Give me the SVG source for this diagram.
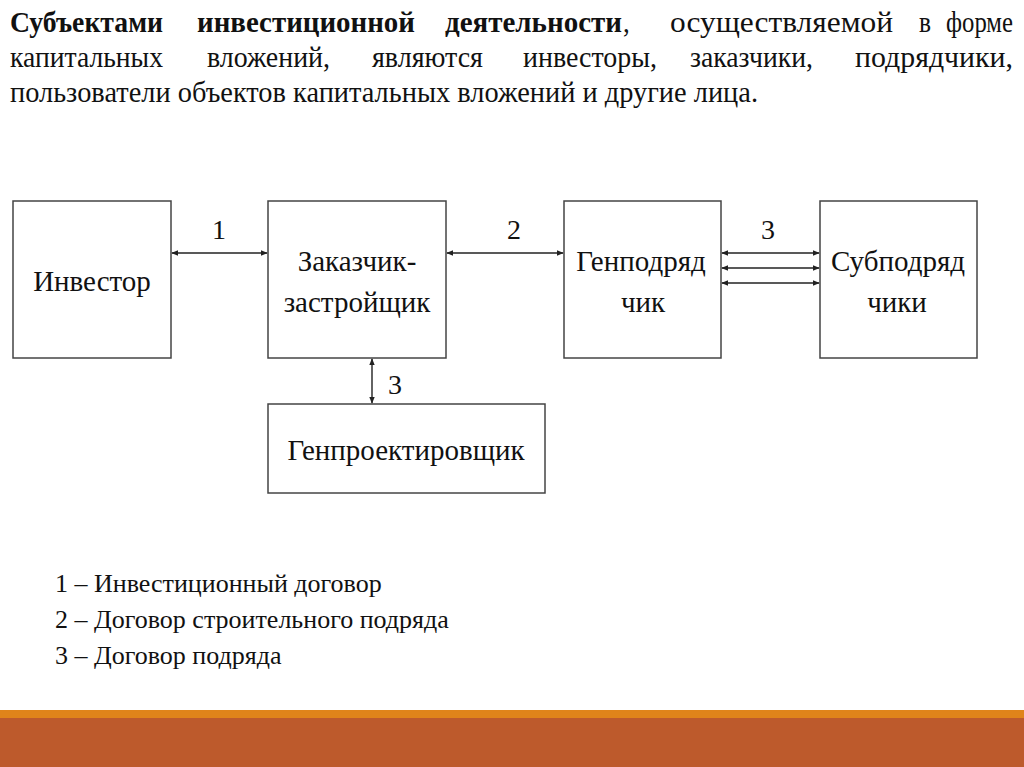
<svg xmlns="http://www.w3.org/2000/svg" width="1024" height="767" viewBox="0 0 1024 767">
<defs>
<style>
.t{font-family:"Liberation Serif","Times New Roman","DejaVu Serif",serif;fill:#111}
.h{font-size:27px}
.b{font-weight:bold}
.n{font-size:29px;text-anchor:middle}
.lab{font-size:28px;text-anchor:middle}
.leg{font-size:26px}
.box{fill:#fff;stroke:#444;stroke-width:1.5}
.c{stroke:#222;stroke-width:1.4;fill:none}
</style>
<marker id="ah" viewBox="0 0 10 10" refX="9" refY="5" markerWidth="7" markerHeight="7" orient="auto-start-reverse" markerUnits="userSpaceOnUse">
<path d="M0,1 L10,5 L0,9 z" fill="#222"/>
</marker>
</defs>
<rect width="1024" height="767" fill="#fff"/>
<rect x="0" y="710" width="1024" height="8" fill="#E0841A"/>
<rect x="0" y="718" width="1024" height="49" fill="#BD5A2C"/>
<g id="header">
<g transform="translate(0,32) scale(1,1.12) translate(0,-32)">
<text class="t h b" x="10" y="32" textLength="153" lengthAdjust="spacingAndGlyphs">Субъектами</text>
<text class="t h b" x="197" y="32" textLength="218" lengthAdjust="spacingAndGlyphs">инвестиционной</text>
<text class="t h b" x="445" y="32" textLength="177" lengthAdjust="spacingAndGlyphs">деятельности</text>
<text class="t h" x="623" y="32">,</text>
<text class="t h" x="670" y="32" textLength="223" lengthAdjust="spacingAndGlyphs">осуществляемой</text>
<text class="t h" x="919" y="32" textLength="12" lengthAdjust="spacingAndGlyphs">в</text>
<text class="t h" x="946" y="32" textLength="67" lengthAdjust="spacingAndGlyphs">форме</text>
</g>
<g transform="translate(0,67) scale(1,1.12) translate(0,-67)">
<text class="t h" x="10" y="67" textLength="153" lengthAdjust="spacingAndGlyphs">капитальных</text>
<text class="t h" x="207" y="67" textLength="123" lengthAdjust="spacingAndGlyphs">вложений,</text>
<text class="t h" x="372" y="67" textLength="111" lengthAdjust="spacingAndGlyphs">являются</text>
<text class="t h" x="523" y="67" textLength="134" lengthAdjust="spacingAndGlyphs">инвесторы,</text>
<text class="t h" x="690" y="67" textLength="123" lengthAdjust="spacingAndGlyphs">заказчики,</text>
<text class="t h" x="855" y="67" textLength="158" lengthAdjust="spacingAndGlyphs">подрядчики,</text>
</g>
<g transform="translate(0,102) scale(1,1.12) translate(0,-102)">
<text class="t h" x="10" y="102" textLength="748" lengthAdjust="spacingAndGlyphs">пользователи объектов капитальных вложений и другие лица.</text>
</g>
</g>
<g id="investor">
<rect class="box" x="13" y="201" width="158" height="157"/>
<text class="t n" x="92" y="291">Инвестор</text>
</g>
<g id="zakazchik">
<rect class="box" x="268" y="201" width="178" height="157"/>
<text class="t n" x="357" y="271">Заказчик-</text>
<text class="t n" x="357" y="312">застройщик</text>
</g>
<g id="genpodryadchik">
<rect class="box" x="564" y="201" width="157" height="157"/>
<text class="t n" x="641" y="271">Генподряд</text>
<text class="t n" x="643" y="312">чик</text>
</g>
<g id="subpodryadchiki">
<rect class="box" x="820" y="201" width="157" height="157"/>
<text class="t n" x="898" y="271">Субподряд</text>
<text class="t n" x="897" y="312">чики</text>
</g>
<g id="genproektirovshchik">
<rect class="box" x="268" y="404" width="277" height="89"/>
<text class="t n" x="406" y="460">Генпроектировщик</text>
</g>
<g id="connectors">
<line class="c" x1="172" y1="253" x2="267" y2="253" marker-start="url(#ah)" marker-end="url(#ah)"/>
<line class="c" x1="447" y1="253" x2="563" y2="253" marker-start="url(#ah)" marker-end="url(#ah)"/>
<line class="c" x1="722" y1="253" x2="819" y2="253" marker-start="url(#ah)" marker-end="url(#ah)"/>
<line class="c" x1="722" y1="268" x2="819" y2="268" marker-start="url(#ah)" marker-end="url(#ah)"/>
<line class="c" x1="722" y1="283" x2="819" y2="283" marker-start="url(#ah)" marker-end="url(#ah)"/>
<line class="c" x1="372" y1="359" x2="372" y2="403" marker-start="url(#ah)" marker-end="url(#ah)"/>
<text class="t lab" x="219" y="239">1</text>
<text class="t lab" x="514" y="239">2</text>
<text class="t lab" x="768" y="239">3</text>
<text class="t lab" x="395" y="394">3</text>
</g>
<g id="legend">
<text class="t leg" x="55" y="592">1 – Инвестиционный договор</text>
<text class="t leg" x="55" y="628">2 – Договор строительного подряда</text>
<text class="t leg" x="55" y="664">3 – Договор подряда</text>
</g>
</svg>
